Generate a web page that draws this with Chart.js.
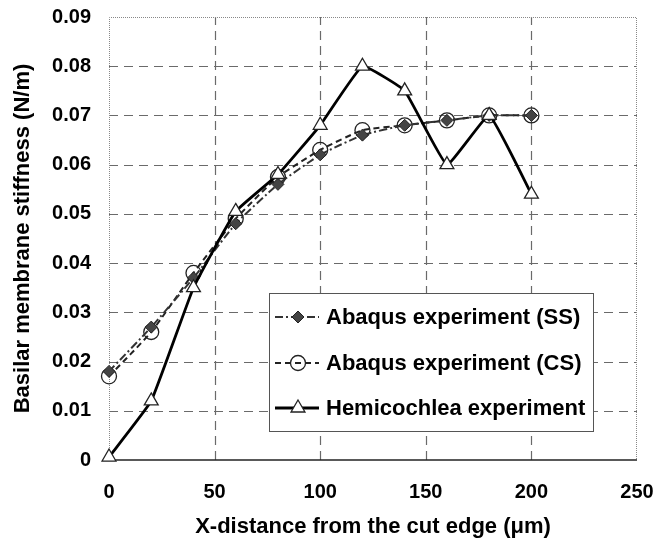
<!DOCTYPE html>
<html>
<head>
<meta charset="utf-8">
<script src="https://cdn.jsdelivr.net/npm/chart.js@4"></script>
<style>
  html, body { margin: 0; padding: 0; background: #fff; }
  #wrap { width: 667px; height: 545px; }
</style>
</head>
<body>
<div id="wrap"><canvas id="stiffness-chart" width="667" height="545"></canvas></div>
<script>
const xDist = [0, 20, 40, 60, 80, 100, 120, 140, 160, 180, 200];
const abaqusSS = [0.018, 0.027, 0.037, 0.048, 0.056, 0.062, 0.066, 0.068, 0.069, 0.070, 0.070];
const abaqusCS = [0.017, 0.026, 0.038, 0.049, 0.0575, 0.063, 0.067, 0.068, 0.069, 0.070, 0.070];
const hemicochlea = [0.0006, 0.012, 0.035, 0.0505, 0.058, 0.068, 0.080, 0.075, 0.060, 0.070, 0.054];
const seriesNames = ['Abaqus experiment (SS)', 'Abaqus experiment (CS)', 'Hemicochlea experiment'];

const font = 'Liberation Sans, Arial, sans-serif';

function pts(ys) {
  return xDist.map((x, i) => ({ x: x, y: ys[i] }));
}

// dashed grid from the scales' own ticks (skip the frame edges)
const dashedGrid = {
  id: 'dashedGrid',
  beforeDatasetsDraw(chart) {
    const a = chart.chartArea, ctx = chart.ctx;
    const xs = chart.scales.x, ys = chart.scales.y;
    ctx.save();
    ctx.strokeStyle = '#6a6a6a';
    ctx.lineWidth = 1.2;
    ctx.setLineDash([9, 6]);
    xs.ticks.forEach(t => {
      if (t.value === xs.min || t.value === xs.max) return;
      const px = Math.round(xs.getPixelForValue(t.value)) + 0.5;
      ctx.beginPath();
      ctx.moveTo(px, a.bottom);
      ctx.lineTo(px, a.top);
      ctx.stroke();
    });
    ys.ticks.forEach(t => {
      if (t.value === ys.min || t.value === ys.max) return;
      const py = Math.round(ys.getPixelForValue(t.value)) + 0.5;
      ctx.beginPath();
      ctx.moveTo(a.left, py);
      ctx.lineTo(a.right, py);
      ctx.stroke();
    });
    // dotted frame on left/top/right
    ctx.strokeStyle = '#888';
    ctx.lineWidth = 1;
    ctx.setLineDash([1, 1]);
    ctx.beginPath();
    ctx.moveTo(a.left + 0.5, a.bottom);
    ctx.lineTo(a.left + 0.5, a.top + 0.5);
    ctx.lineTo(a.right - 0.5, a.top + 0.5);
    ctx.lineTo(a.right - 0.5, a.bottom);
    ctx.stroke();
    ctx.setLineDash([]);
    ctx.strokeStyle = '#222';
    ctx.lineWidth = 1.5;
    ctx.beginPath();
    ctx.moveTo(a.left, a.bottom);
    ctx.lineTo(a.right, a.bottom);
    ctx.stroke();
    ctx.restore();
  }
};

function drawMarker(ctx, style, r, x, y) {
  ctx.beginPath();
  if (style === 'triangle') {
    ctx.moveTo(x, y - r);
    ctx.lineTo(x + r * 0.87, y + r * 0.5);
    ctx.lineTo(x - r * 0.87, y + r * 0.5);
    ctx.closePath();
  } else if (style === 'rectRot') {
    ctx.moveTo(x, y - r);
    ctx.lineTo(x + r, y);
    ctx.lineTo(x, y + r);
    ctx.lineTo(x - r, y);
    ctx.closePath();
  } else {
    ctx.arc(x, y, r, 0, Math.PI * 2);
  }
  ctx.fill();
  ctx.stroke();
}

// boxed legend inside the plot
const legendBox = {
  id: 'legendBox',
  afterDraw(chart) {
    const ctx = chart.ctx;
    const bx = 269, by = 293, bw = 324, bh = 138;
    ctx.save();
    ctx.fillStyle = '#fff';
    ctx.fillRect(bx, by, bw, bh);
    ctx.strokeStyle = '#555';
    ctx.lineWidth = 1;
    ctx.strokeRect(bx + 0.5, by + 0.5, bw, bh);
    const rows = [317, 363, 408];
    chart.data.datasets.forEach((ds, i) => {
      const y = rows[i];
      ctx.strokeStyle = ds.borderColor;
      ctx.lineWidth = ds.borderWidth;
      ctx.setLineDash(ds.borderDash || []);
      ctx.beginPath();
      ctx.moveTo(275, y);
      ctx.lineTo(319, y);
      ctx.stroke();
      ctx.setLineDash([]);
      ctx.fillStyle = ds.pointBackgroundColor;
      ctx.strokeStyle = ds.pointBorderColor;
      ctx.lineWidth = ds.pointBorderWidth;
      drawMarker(ctx, ds.pointStyle, ds.pointRadius, 298, y);
      ctx.fillStyle = '#000';
      ctx.font = 'bold 22px ' + font;
      ctx.textBaseline = 'middle';
      ctx.textAlign = 'left';
      ctx.fillText(ds.label, 326, y + 1);
    });
    ctx.restore();
  }
};

const chart = new Chart(document.getElementById('stiffness-chart'), {
  type: 'scatter',
  data: {
    datasets: [
      {
        label: seriesNames[0],
        data: pts(abaqusSS),
        showLine: true,
        borderColor: '#333',
        borderWidth: 2,
        borderDash: [8, 3, 2, 3],
        pointStyle: 'rectRot',
        pointRadius: 6,
        pointBackgroundColor: '#444',
        pointBorderColor: '#222',
        pointBorderWidth: 1,
        tension: 0.15,
        order: 2
      },
      {
        label: seriesNames[1],
        data: pts(abaqusCS),
        showLine: true,
        borderColor: '#222',
        borderWidth: 2,
        borderDash: [6, 4],
        pointStyle: 'circle',
        pointRadius: 7.5,
        pointBackgroundColor: 'rgba(255,255,255,0)',
        pointBorderColor: '#222',
        pointBorderWidth: 1.3,
        tension: 0.15,
        order: 3
      },
      {
        label: seriesNames[2],
        data: pts(hemicochlea),
        showLine: true,
        borderColor: '#000',
        borderWidth: 2.8,
        pointStyle: 'triangle',
        pointRadius: 8,
        pointBackgroundColor: '#fff',
        pointBorderColor: '#222',
        pointBorderWidth: 1.3,
        tension: 0.1,
        order: 1
      }
    ]
  },
  options: {
    responsive: false,
    animation: false,
    clip: false,
    layout: { padding: { left: 0, right: 30, top: 17, bottom: 0 } },
    plugins: {
      legend: { display: false },
      tooltip: { enabled: false }
    },
    scales: {
      x: {
        type: 'linear',
        min: 0,
        max: 250,
        afterFit(axis) {
          axis.height = 85;
          axis.paddingLeft = 0;
          axis.paddingRight = 0;
        },
        ticks: {
          stepSize: 50,
          padding: 20,
          color: '#000',
          font: { family: font, size: 20, weight: 'bold' }
        },
        grid: { display: false, drawTicks: false },
        border: { display: false },
        title: {
          display: true,
          text: 'X-distance from the cut edge (\u03bcm)',
          color: '#000',
          padding: { top: 0, bottom: 5 },
          font: { family: font, size: 22, weight: 'bold' }
        }
      },
      y: {
        min: 0,
        max: 0.09,
        afterFit(axis) {
          axis.width = 109;
          axis.paddingTop = 0;
          axis.paddingBottom = 0;
        },
        ticks: {
          stepSize: 0.01,
          padding: 18,
          color: '#000',
          font: { family: font, size: 20, weight: 'bold' },
          callback: v => (Math.abs(v) < 1e-9 ? '0' : v.toFixed(2))
        },
        grid: { display: false, drawTicks: false },
        border: { display: false },
        title: {
          display: true,
          text: 'Basilar membrane stiffness (N/m)',
          color: '#000',
          padding: { top: 10, bottom: 0 },
          font: { family: font, size: 22, weight: 'bold' }
        }
      }
    }
  },
  plugins: [dashedGrid, legendBox]
});
</script>
</body>
</html>
